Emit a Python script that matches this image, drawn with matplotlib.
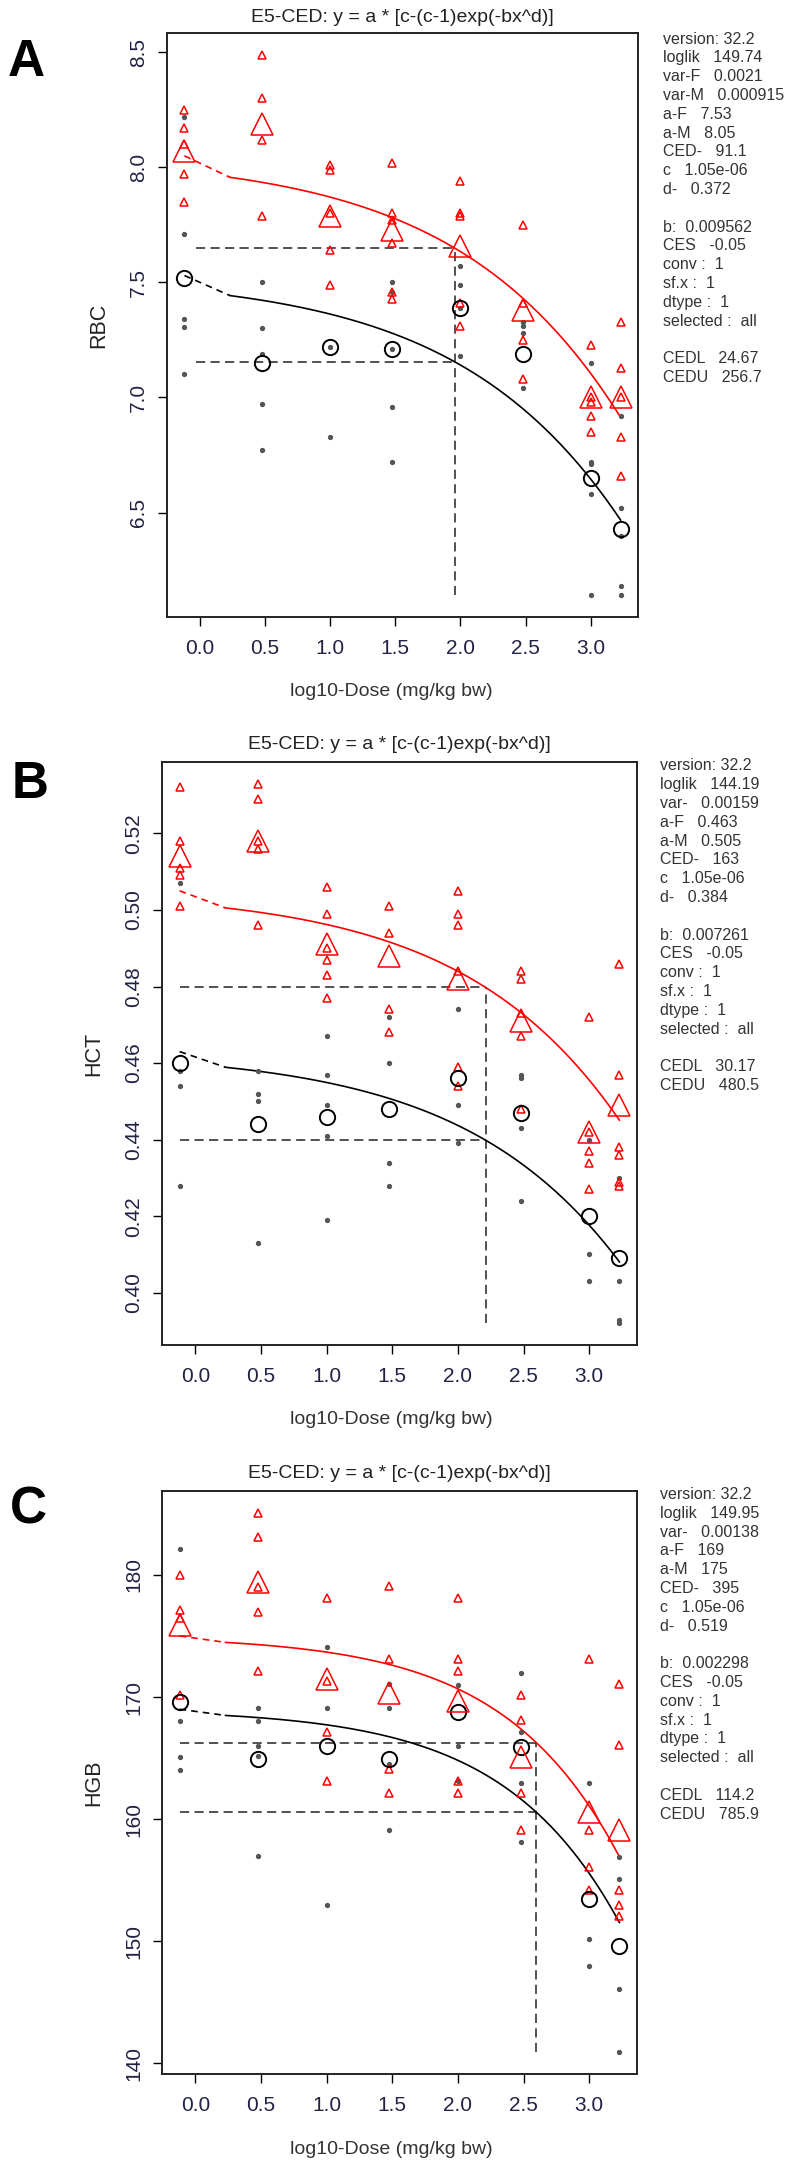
import numpy as np
import matplotlib.pyplot as plt

plt.rcParams['font.family'] = ['Liberation Sans', 'DejaVu Sans']

W, H = 796, 2165

# log10 dose of the 8 groups (first one = control)
dose_x = [-0.12, 0.477, 1.0, 1.477, 2.0, 2.477, 3.0, 3.23]
x_ticks = [0.0, 0.5, 1.0, 1.5, 2.0, 2.5, 3.0]

# --- RBC (A) ---
rbc_m_pts = [[8.25, 8.17, 8.10, 7.97, 7.85],
             [8.49, 8.30, 8.12, 7.79],
             [8.01, 7.99, 7.80, 7.64, 7.49],
             [8.02, 7.80, 7.77, 7.67, 7.46, 7.43],
             [7.94, 7.80, 7.79, 7.41, 7.31],
             [7.75, 7.41, 7.25, 7.08],
             [7.23, 7.00, 6.98, 6.92, 6.85],
             [7.33, 7.13, 7.00, 6.83, 6.66]]
rbc_m_mean = [8.07, 8.19, 7.79, 7.73, 7.66, 7.38, 7.00, 7.00]
rbc_f_pts = [[8.22, 7.71, 7.34, 7.305, 7.10],
             [7.50, 7.30, 7.19, 6.97, 6.77],
             [7.22, 6.83],
             [7.50, 7.46, 7.21, 6.96, 6.72],
             [7.57, 7.49, 7.39, 7.18],
             [7.33, 7.31, 7.28, 7.04],
             [7.15, 6.72, 6.71, 6.58, 6.14],
             [6.92, 6.52, 6.40, 6.18, 6.14]]
rbc_f_mean = [7.52, 7.15, 7.22, 7.21, 7.39, 7.19, 6.65, 6.43]
rbc_par = [7.53, 8.05, 0.009562, 1.05e-06, 0.372, 91.1]   # a-F, a-M, b, c, d, CED
rbc_yticks = [6.5, 7.0, 7.5, 8.0, 8.5]
rbc_info = ["version: 32.2", "loglik   149.74", "var-F   0.0021", "var-M   0.000915",
            "a-F   7.53", "a-M   8.05", "CED-   91.1", "c   1.05e-06", "d-   0.372", "",
            "b:  0.009562", "CES   -0.05", "conv :  1", "sf.x :  1", "dtype :  1",
            "selected :  all", "", "CEDL   24.67", "CEDU   256.7"]

# --- HCT (B) ---
hct_m_pts = [[0.532, 0.518, 0.511, 0.509, 0.501],
             [0.533, 0.529, 0.518, 0.516, 0.496],
             [0.506, 0.499, 0.490, 0.487, 0.483, 0.477],
             [0.501, 0.494, 0.474, 0.468],
             [0.505, 0.499, 0.496, 0.484, 0.459, 0.454],
             [0.484, 0.482, 0.473, 0.467, 0.448],
             [0.472, 0.442, 0.437, 0.434, 0.427],
             [0.486, 0.457, 0.438, 0.436, 0.429, 0.428]]
hct_m_mean = [0.514, 0.518, 0.491, 0.488, 0.482, 0.471, 0.442, 0.449]
hct_f_pts = [[0.507, 0.458, 0.454, 0.428],
             [0.458, 0.452, 0.450, 0.413],
             [0.467, 0.457, 0.449, 0.441, 0.419],
             [0.472, 0.460, 0.434, 0.428],
             [0.474, 0.449, 0.439],
             [0.457, 0.456, 0.443, 0.424],
             [0.440, 0.410, 0.403],
             [0.430, 0.403, 0.393, 0.392]]
hct_f_mean = [0.460, 0.444, 0.446, 0.448, 0.456, 0.447, 0.420, 0.409]
hct_par = [0.463, 0.505, 0.007261, 1.05e-06, 0.384, 163]
hct_yticks = [0.40, 0.42, 0.44, 0.46, 0.48, 0.50, 0.52]
hct_info = ["version: 32.2", "loglik   144.19", "var-   0.00159", "a-F   0.463",
            "a-M   0.505", "CED-   163", "c   1.05e-06", "d-   0.384", "",
            "b:  0.007261", "CES   -0.05", "conv :  1", "sf.x :  1", "dtype :  1",
            "selected :  all", "", "CEDL   30.17", "CEDU   480.5"]

# --- HGB (C) ---
hgb_m_pts = [[180.0, 177.1, 176.5, 170.2],
             [185.1, 183.1, 179.0, 177.0, 172.1],
             [178.1, 171.3, 167.1, 163.1],
             [179.1, 173.1, 164.1, 162.1],
             [178.1, 173.1, 172.1, 163.1, 162.1],
             [170.2, 168.1, 162.1, 159.1],
             [173.1, 159.1, 156.1, 154.2],
             [171.1, 166.1, 154.2, 153.0, 152.1]]
hgb_m_mean = [175.9, 179.4, 171.5, 170.3, 169.7, 165.1, 160.6, 159.1]
hgb_f_pts = [[182.1, 168.0, 165.1, 164.0],
             [169.1, 168.0, 166.0, 165.2, 157.0],
             [174.1, 169.1, 153.0],
             [171.1, 169.1, 164.5, 159.1],
             [171.0, 166.0, 163.1],
             [172.0, 167.1, 163.0, 158.1],
             [163.0, 150.2, 148.0],
             [156.9, 155.1, 146.1, 140.9]]
hgb_f_mean = [169.6, 164.9, 166.0, 164.9, 168.8, 165.9, 153.5, 149.6]
hgb_par = [169, 175, 0.002298, 1.05e-06, 0.519, 395]
hgb_yticks = [140, 150, 160, 170, 180]
hgb_info = ["version: 32.2", "loglik   149.95", "var-   0.00138", "a-F   169",
            "a-M   175", "CED-   395", "c   1.05e-06", "d-   0.519", "",
            "b:  0.002298", "CES   -0.05", "conv :  1", "sf.x :  1", "dtype :  1",
            "selected :  all", "", "CEDL   114.2", "CEDU   785.9"]

ces = -0.05
title = "E5-CED: y = a * [c-(c-1)exp(-bx^d)]"
xlab = "log10-Dose (mg/kg bw)"


def e5(dose, a, b, c, d):
    return a * (c - (c - 1) * np.exp(-b * dose ** d))


def fx(px):
    return px / W


def fy(py):
    return 1 - py / H


fig = plt.figure(figsize=(W / 100, H / 100), dpi=100)

panels = [
    dict(letter="A", ylab="RBC", m=rbc_m_pts, mm=rbc_m_mean, f=rbc_f_pts, fm=rbc_f_mean,
         par=rbc_par, yt=rbc_yticks, fmt="%.1f", info=rbc_info,
         box=(167, 638, 33, 617), tit_y=17, lab=(8, 63), ylab_x=99, info_xy=(663, 39), x0=-0.03),
    dict(letter="B", ylab="HCT", m=hct_m_pts, mm=hct_m_mean, f=hct_f_pts, fm=hct_f_mean,
         par=hct_par, yt=hct_yticks, fmt="%.2f", info=hct_info,
         box=(162, 637, 762, 1345), tit_y=745, lab=(12, 784), ylab_x=94, info_xy=(660, 766), x0=-0.12),
    dict(letter="C", ylab="HGB", m=hgb_m_pts, mm=hgb_m_mean, f=hgb_f_pts, fm=hgb_f_mean,
         par=hgb_par, yt=hgb_yticks, fmt="%d", info=hgb_info,
         box=(162, 637, 1491, 2074), tit_y=1473, lab=(10, 1510), ylab_x=94, info_xy=(660, 1494.5), x0=-0.12),
]

for p in panels:
    l, r, t, b = p["box"]
    ax = fig.add_axes([fx(l), fy(b), fx(r) - fx(l), (b - t) / H])
    aF, aM, bb, cc, dd, ced = p["par"]

    # individual animals
    for i, x in enumerate(dose_x):
        ax.plot([x] * len(p["f"][i]), p["f"][i], 'o', ms=2.8, color='#555555', zorder=3)
        ax.plot([x] * len(p["m"][i]), p["m"][i], '^', ms=5.5, mfc='none', mec='red', mew=1.1, zorder=3)
    # group means
    ax.plot(dose_x, p["fm"], 'o', ms=11, mfc='none', mec='black', mew=1.4, ls='none', zorder=4)
    ax.plot(dose_x, p["mm"], '^', ms=16, mfc='none', mec='red', mew=1.1, ls='none', zorder=4)

    # fitted curves
    x_first = 0.23
    xc = np.linspace(x_first, dose_x[-1], 300)
    for a, col in [(aM, 'red'), (aF, 'black')]:
        yc = e5(10 ** xc, a, bb, cc, dd)
        ax.plot(xc, yc, color=col, lw=1.2, zorder=2)
        ax.plot([dose_x[0], x_first], [a, yc[0]], color=col, lw=1.2, ls=(0, (4, 3)), zorder=2)

    # CED lines
    all_y = [v for g in p["m"] + p["f"] for v in g] + p["mm"] + p["fm"]
    xced = np.log10(ced)
    for a in (aM, aF):
        ax.plot([p["x0"], xced], [a * (1 + ces)] * 2, color='#222222', lw=1.1, ls=(0, (6, 3.5)), zorder=1)
    ax.plot([xced, xced], [min(all_y), aM * (1 + ces)], color='#222222', lw=1.1, ls=(0, (6, 3.5)), zorder=1)

    # R-style 4% axis extension
    xr = dose_x[-1] - dose_x[0]
    ax.set_xlim(dose_x[0] - 0.04 * xr, dose_x[-1] + 0.04 * xr)
    yr = max(all_y) - min(all_y)
    ax.set_ylim(min(all_y) - 0.04 * yr, max(all_y) + 0.04 * yr)

    ax.set_xticks(x_ticks, ["%.1f" % v for v in x_ticks], fontsize=15, color='#222244')
    ax.set_yticks(p["yt"], [p["fmt"] % v for v in p["yt"]], fontsize=15, color='#222244',
                  rotation=90, va='center')
    ax.tick_params(axis='x', length=6.5, width=1.0, pad=9)
    ax.tick_params(axis='y', length=6.5, width=1.0, pad=7)
    for s in ax.spines.values():
        s.set_linewidth(1.4)
        s.set_color('#222222')

    fig.text(fx((l + r) / 2), fy(p["tit_y"]), title, ha='center', va='center', fontsize=14, color='#222222')
    fig.text(fx(391), fy(b + 75), xlab, ha='center', va='center', fontsize=14, color='#333333')
    fig.text(fx(p["ylab_x"]), fy((t + b) / 2), p["ylab"], ha='center', va='center',
             rotation=90, fontsize=15.5, color='#222222')
    fig.text(fx(p["lab"][0]), fy(p["lab"][1]), p["letter"], ha='left', va='center',
             fontsize=37, fontweight='bold', color='black')

    ix, iy = p["info_xy"]
    for k, line in enumerate(p["info"]):
        if line:
            fig.text(fx(ix), fy(iy + 18.8 * k), line, ha='left', va='center', fontsize=11.5, color='#333333')

fig.savefig('out.png', dpi=100)
